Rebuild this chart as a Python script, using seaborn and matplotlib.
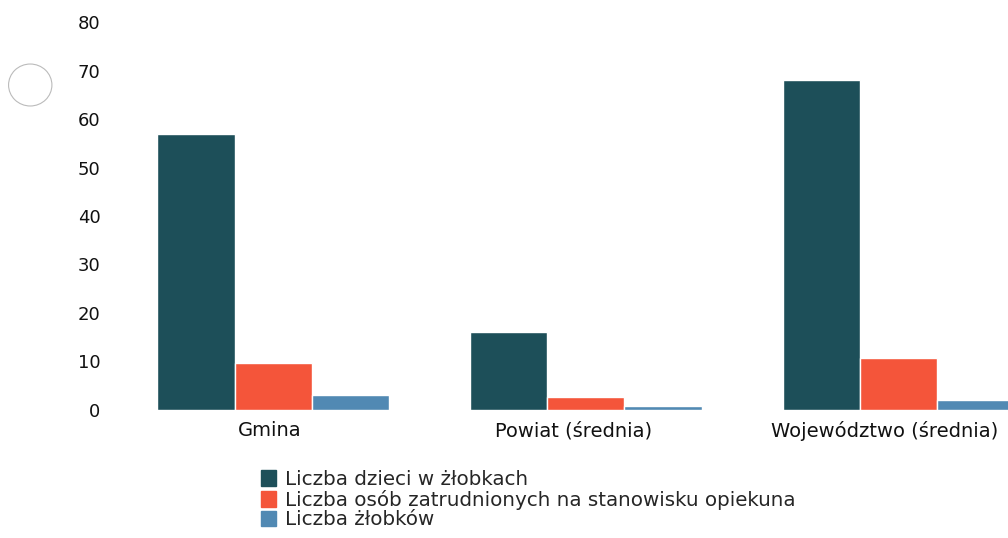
import pandas as pd
import matplotlib.pyplot as plt
import seaborn as sns
from matplotlib.patches import Ellipse

categories = ['Gmina', 'Powiat (średnia)', 'Województwo (średnia)']
series = ['Liczba dzieci w żłobkach',
          'Liczba osób zatrudnionych na stanowisku opiekuna',
          'Liczba żłobków']
dzieci = [57, 16, 68]
opiekunowie = [9.7, 2.7, 10.7]
zlobki = [3, 0.8, 2]
colors = ['#1d4f59', '#f4553a', '#5189b3']

rows = []
for name, vals in zip(series, [dzieci, opiekunowie, zlobki]):
    for cat, v in zip(categories, vals):
        rows.append({'kategoria': cat, 'seria': name, 'wartosc': v})
df = pd.DataFrame(rows)

sns.set_style('white')
plt.rcParams['font.family'] = ['DejaVu Sans']

fig = plt.figure(figsize=(10.08, 5.38), dpi=100)
ax = fig.add_axes([0.119, 0.238, 0.881, 0.721])

sns.barplot(data=df, x='kategoria', y='wartosc', hue='seria', order=categories,
            hue_order=series, palette=colors, saturation=1, width=0.74, ax=ax)

ax.set_ylim(0, 80)
ax.set_xlim(-0.49, 2.35)
ax.set_yticks(range(0, 81, 10))
# category labels sit a little left of the group centres in the original
ax.set_xticks([i + d for i, d in zip(range(len(categories)), [-0.01, -0.04, -0.045])])
ax.set_xticklabels(categories)
ax.set_xlabel('')
ax.set_ylabel('')
ax.tick_params(axis='both', length=0, colors='#111111')
ax.tick_params(axis='y', pad=14, labelsize=13)
ax.tick_params(axis='x', pad=8, labelsize=14)
for s in ax.spines.values():
    s.set_visible(False)

ax.get_legend().remove()
handles = [plt.Rectangle((0, 0), 1, 1, color=c) for c in colors]
fig.legend(handles, series, loc='upper left', bbox_to_anchor=(0.259, 0.126),
           frameon=False, fontsize=14.3, handlelength=0.75, handleheight=0.85,
           handletextpad=0.45, labelspacing=0.03, borderpad=0, borderaxespad=0)

# punch-hole mark from the scan
fig.patches.append(Ellipse((0.03, 0.842), 0.043, 0.078, transform=fig.transFigure,
                           fill=False, edgecolor='#bbbbbb', linewidth=0.8))

fig.savefig('out.png', dpi=100)
